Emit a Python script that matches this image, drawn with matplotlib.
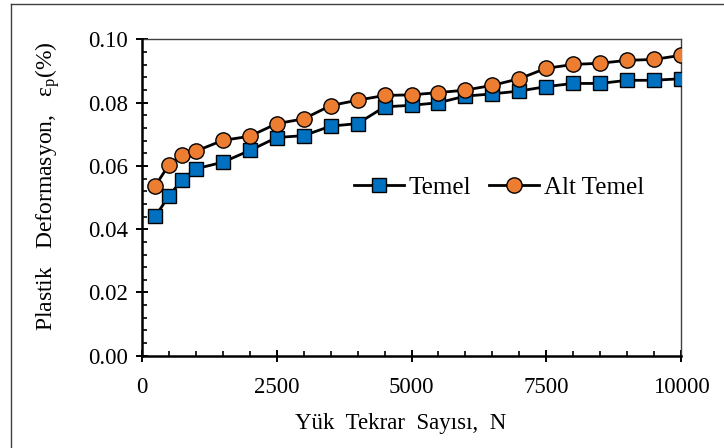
import matplotlib
matplotlib.use("Agg")
import matplotlib.pyplot as plt
from matplotlib.ticker import MultipleLocator, FormatStrFormatter
from matplotlib.lines import Line2D

cycles = [250, 500, 750, 1000, 1500, 2000, 2500, 3000, 3500, 4000, 4500,
          5000, 5500, 6000, 6500, 7000, 7500, 8000, 8500, 9000, 9500, 10000]
temel = [0.0441, 0.0506, 0.0557, 0.0591, 0.0612, 0.0649, 0.0690, 0.0696,
         0.0726, 0.0734, 0.0787, 0.0792, 0.0800, 0.0821, 0.0828, 0.0837,
         0.0851, 0.0861, 0.0861, 0.0871, 0.0871, 0.0876]
alt_temel = [0.0538, 0.0604, 0.0636, 0.0647, 0.0681, 0.0694, 0.0734, 0.0749,
             0.0791, 0.0808, 0.0823, 0.0825, 0.0832, 0.0840, 0.0855, 0.0876,
             0.0909, 0.0921, 0.0925, 0.0934, 0.0937, 0.0950]
series_labels = ["Temel", "Alt Temel"]
x_label = "Yük  Tekrar  Sayısı,  N"
y_label = r"Plastik   Deformasyon,   ε$_{\mathrm{p}}$(%)"

plt.rcParams['font.family'] = ['Liberation Serif', 'DejaVu Serif']
plt.rcParams['mathtext.fontset'] = 'custom'
plt.rcParams['mathtext.rm'] = 'Liberation Serif'
plt.rcParams['mathtext.it'] = 'Liberation Serif:italic'

fig = plt.figure(figsize=(7.24, 4.48), dpi=100)
ax = fig.add_axes([142/724, 1-355.7/448, 539/724, (355.7-39.5)/448])

ax.plot(cycles, temel, color='black', lw=2.0, marker='s', ms=10.5,
        mfc='#0070C0', mec='black', mew=1.0, label=series_labels[0], zorder=3)
ax.plot(cycles, alt_temel, color='black', lw=2.0, marker='o', ms=11,
        mfc='#ED7D31', mec='black', mew=1.0, label=series_labels[1], zorder=4)

ax.set_xlim(0, 10000)
ax.set_ylim(0, 0.10)
ax.xaxis.set_major_locator(MultipleLocator(2500))
ax.xaxis.set_minor_locator(MultipleLocator(500))
ax.yaxis.set_major_locator(MultipleLocator(0.02))
ax.yaxis.set_minor_locator(MultipleLocator(0.004))
ax.yaxis.set_major_formatter(FormatStrFormatter('%.2f'))

ax.tick_params(which='major', direction='inout', length=9, width=1.4,
               labelsize=16.5, color='black')
ax.tick_params(axis='x', which='major', pad=10.5)
ax.tick_params(axis='y', which='major', pad=5.5)
ax.tick_params(which='minor', direction='in', length=3.5, width=1.2, color='black')

for s in ['left', 'bottom']:
    ax.spines[s].set_linewidth(1.8)
    ax.spines[s].set_color('black')
for s in ['top', 'right']:
    ax.spines[s].set_linewidth(1.0)
    ax.spines[s].set_color('#404040')
ax.spines['left'].set_zorder(5)
ax.spines['bottom'].set_zorder(5)

ax.set_xlabel(x_label, fontsize=16.5, labelpad=11)
ax.xaxis.label.set_x(0.48)
ax.set_ylabel(y_label, fontsize=17, labelpad=19)
ax.yaxis.label.set_y(0.537)

leg = ax.legend(loc='center', bbox_to_anchor=(0.662, 0.531), ncol=2,
                frameon=False, fontsize=18, handlelength=2.0,
                handletextpad=0.2, columnspacing=0.7, borderpad=0.2)

# outer frame (only left and top edges visible in the reference)
xl = 10.5 / 724
yt = 1 - 4.5 / 448
fig.add_artist(Line2D([xl, xl], [0, yt], transform=fig.transFigure,
                      color='#404040', lw=1.0))
fig.add_artist(Line2D([xl, 1], [yt, yt], transform=fig.transFigure,
                      color='#404040', lw=1.0))

fig.savefig("out.png", dpi=100)
